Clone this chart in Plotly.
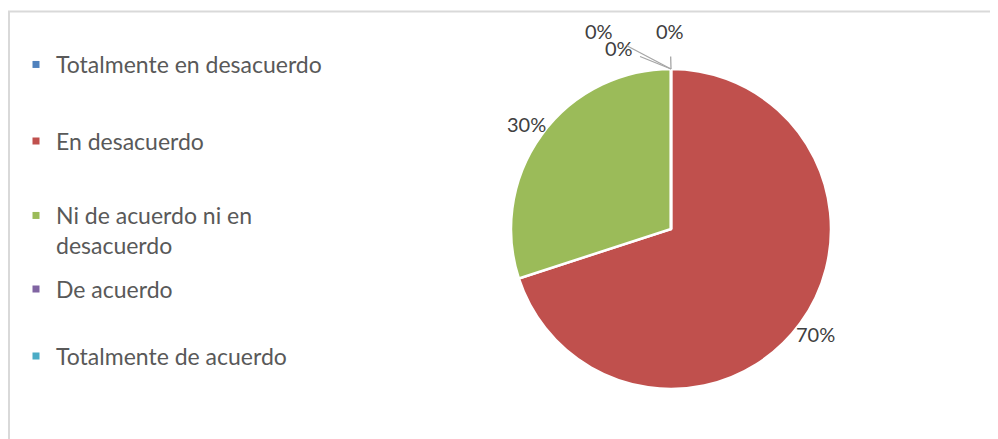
import math
import plotly.graph_objects as go

# ---- data ----
categories = ["Totalmente en desacuerdo", "En desacuerdo",
              "Ni de acuerdo ni en desacuerdo", "De acuerdo",
              "Totalmente de acuerdo"]
legend_labels = ["Totalmente en desacuerdo", "En desacuerdo",
                 "Ni de acuerdo ni en<br>desacuerdo", "De acuerdo",
                 "Totalmente de acuerdo"]
values = [0, 70, 30, 0, 0]
colors = ["#4f81bd", "#c0504d", "#9bbb59", "#8064a2", "#4bacc6"]

# ---- layout constants (screen pixels; page body has an 8px margin) ----
OFF = 8
W, H = 998 - OFF, 439 - OFF
CX, CY, R = 671, 229, 160
FONT = "Lato"


def px(x):
    return (x - OFF) / W


def py(y):
    return 1 - (y - OFF) / H


fig = go.Figure()
fig.add_trace(go.Pie(
    labels=categories, values=values, sort=False, direction="clockwise",
    rotation=0, marker=dict(colors=colors, line=dict(color="white", width=2.5)),
    textinfo="none", hoverinfo="label+percent", showlegend=False,
    domain=dict(x=[px(CX - R), px(CX + R)], y=[py(CY + R), py(CY - R)]),
))

# legend entries via dummy traces, one legend each for precise spacing
legend_y = [66, 142.5, 217, 290.5, 357.5]
for i, (lab, col) in enumerate(zip(legend_labels, colors)):
    name = "legend" if i == 0 else f"legend{i + 1}"
    fig.add_trace(go.Scatter(
        x=[None], y=[None], mode="markers", name=lab,
        marker=dict(symbol="square", size=7, color=col),
        legend=name, showlegend=True, hoverinfo="skip"))
    fig.update_layout(**{name: dict(
        x=px(16), xanchor="left", y=py(legend_y[i] - 23), yanchor="top",
        valign="top", bgcolor="rgba(0,0,0,0)",
        font=dict(family=FONT, size=23, color="#595959"),
        itemclick=False, itemdoubleclick=False)})

# data labels computed from slice angles
total = sum(values)
cum = 0
offsets = {0: (-1, -38, 12), 3: (-52, -21, 6), 4: (-72, -38, 14)}
for i, v in enumerate(values):
    frac = v / total
    mid = (cum + frac / 2) * 2 * math.pi
    cum += frac
    txt = f"{round(frac * 100)}%"
    if v > 0:
        rr = R + 18
        x = CX + rr * math.sin(mid)
        y = CY - rr * math.cos(mid)
        fig.add_annotation(x=px(x), y=py(y), xref="paper", yref="paper",
                           xanchor="center", yanchor="middle",
                           text=txt, showarrow=False,
                           font=dict(family=FONT, size=20, color="#404040"))
    else:
        x = CX + R * math.sin(mid)
        y = CY - R * math.cos(mid)
        ax, ay, sso = offsets[i]
        fig.add_annotation(x=px(x), y=py(y), xref="paper", yref="paper",
                           xanchor="center", yanchor="middle",
                           text=txt, showarrow=True, arrowhead=0,
                           arrowwidth=1.3, arrowcolor="#a6a6a6",
                           ax=ax, ay=ay, standoff=0, startstandoff=sso,
                           font=dict(family=FONT, size=20, color="#404040"))

# chart border
fig.add_shape(type="rect", xref="paper", yref="paper",
              x0=px(9), x1=px(998 + 5), y0=py(439 + 5), y1=py(11.5),
              line=dict(color="#d9d9d9", width=2), layer="below")

fig.update_layout(
    width=W, height=H, margin=dict(l=0, r=0, t=0, b=0),
    paper_bgcolor="white", plot_bgcolor="white",
    xaxis=dict(visible=False), yaxis=dict(visible=False),
    font=dict(family=FONT),
)

fig.write_html("out.html")
